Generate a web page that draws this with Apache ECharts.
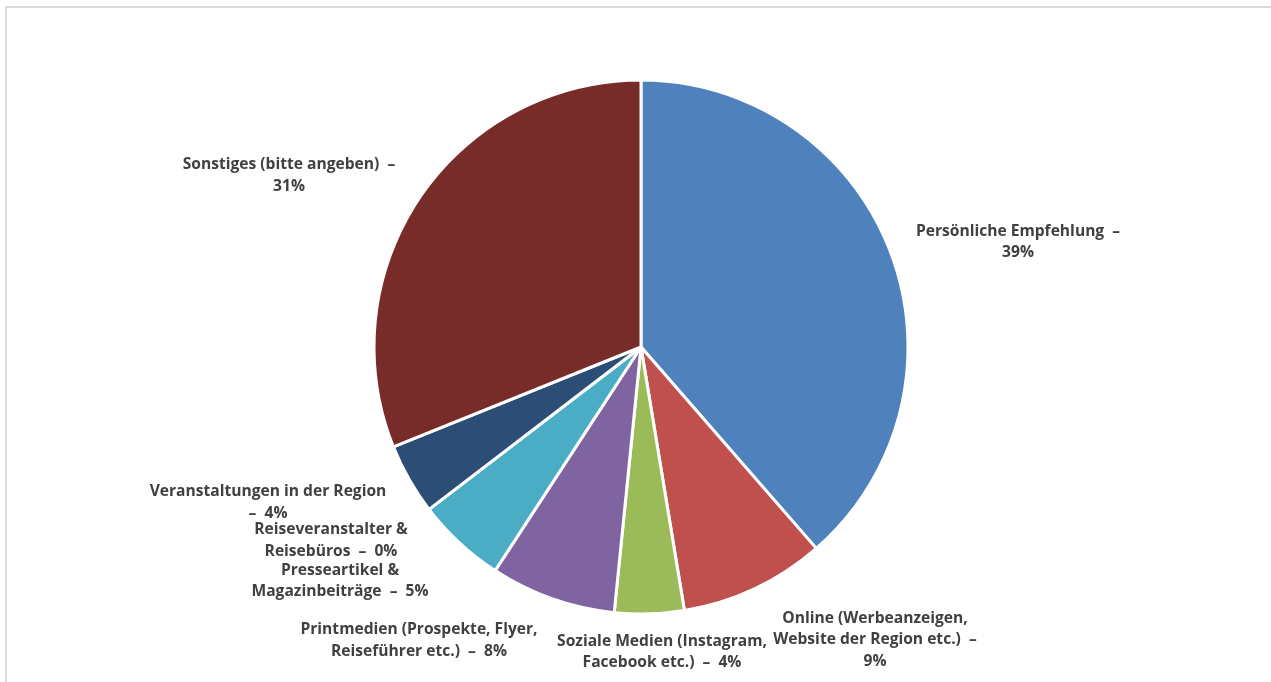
<!DOCTYPE html>
<html>
<head>
<meta charset="utf-8">
<script src="https://cdn.jsdelivr.net/npm/echarts@6/dist/echarts.min.js"></script>
<style>
  html, body { margin: 0; padding: 0; background: #fff; }
  #frame { position: absolute; left: 5px; top: 6px; width: 1300px; height: 700px;
           border-top: 2px solid #d9d9d9; border-left: 2px solid #d9d9d9; box-sizing: border-box; }
  #chart { position: absolute; left: 0; top: 0; width: 1271px; height: 682px; }
</style>
</head>
<body>
<div id="frame"></div>
<div id="chart"></div>
<script>
// Data
const categories = [
  'Persönliche Empfehlung',
  'Online (Werbeanzeigen,\nWebsite der Region etc.)',
  'Soziale Medien (Instagram,\nFacebook etc.)',
  'Printmedien (Prospekte, Flyer,\nReiseführer etc.)',
  'Presseartikel &\nMagazinbeiträge',
  'Reiseveranstalter &\nReisebüros',
  'Veranstaltungen in der Region',
  'Sonstiges (bitte angeben)'
];
const values = [38.6, 8.8, 4.2, 7.6, 5.4, 0, 4.3, 31.1];
const colors = ['#4F81BD', '#C0504D', '#9BBB59', '#8064A2', '#4BACC6', '#F79646', '#2C4D75', '#772C2A'];

// Label layout (styling only)
const sepStyle = ['pctBreak', 'pctBreak', 'inline', 'inline', 'inline', 'inline', 'dashBreak', 'pctBreak'];
const labelPos = [
  [1018, 242], [875, 640], [662, 652], [419, 640.5],
  [340, 581], [331, 540.5], [268, 502.5], [289, 175.5]
];

const chart = echarts.init(document.getElementById('chart'), null, { renderer: 'canvas' });
chart.setOption({
  animation: false,
  color: colors,
  series: [{
    type: 'pie',
    center: [641, 347],
    radius: 267,
    startAngle: 90,
    clockwise: true,
    avoidLabelOverlap: false,
    percentPrecision: 0,
    data: categories.map((c, i) => ({ name: c, value: values[i] })),
    itemStyle: { borderColor: '#ffffff', borderWidth: 3 },
    label: {
      show: true,
      position: 'outside',
      fontFamily: 'Open Sans',
      fontWeight: 'bold',
      fontSize: 15.6,
      lineHeight: 21.5,
      color: '#404040',
      align: 'center',
      formatter: function (p) {
        const pct = Math.round(p.percent) + '%';
        const s = sepStyle[p.dataIndex];
        if (s === 'pctBreak') return p.name + '  –\n' + pct;
        if (s === 'dashBreak') return p.name + '\n–  ' + pct;
        return p.name + '  –  ' + pct;
      }
    },
    labelLine: { show: false },
    labelLayout: function (params) {
      const pos = labelPos[params.dataIndex];
      return { x: pos[0], y: pos[1], align: 'center', verticalAlign: 'middle', hideOverlap: false };
    },
    emphasis: { disabled: true }
  }]
});
</script>
</body>
</html>
